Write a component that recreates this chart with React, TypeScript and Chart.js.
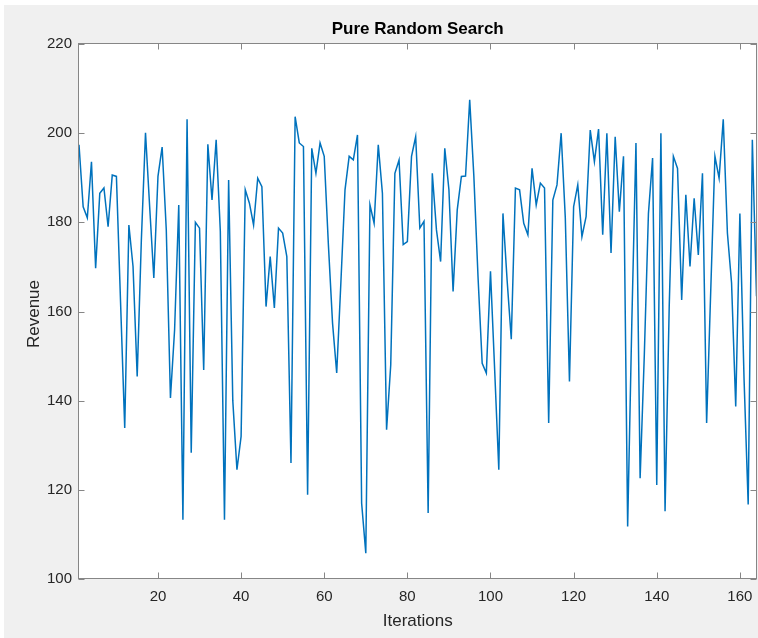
import React, { useEffect, useRef } from "react";
import { Chart, registerables } from "chart.js";

Chart.register(...registerables);

const chartTitle = "Pure Random Search";
const xAxisLabel = "Iterations";
const yAxisLabel = "Revenue";

const xTickValues = [20, 40, 60, 80, 100, 120, 140, 160];
const yTickValues = [100, 120, 140, 160, 180, 200, 220];

// Revenue per iteration (iterations 1..164)
const revenue = [
  197.4, 183.5, 181, 193.6, 169.7, 186.5, 187.7, 179, 190.6, 190.3,
  162, 133.9, 179.4, 170.1, 145.4, 176, 200.1, 183.5, 167.5, 190.3,
  196.9, 178.3, 140.6, 155.9, 183.9, 113.3, 203.1, 128.3, 180, 178.7,
  146.9, 197.5, 185, 198.5, 178, 113.3, 189.5, 140, 124.5, 132,
  187.3, 184.3, 179.4, 189.9, 188, 161.1, 172.3, 160.8, 178.7, 177.6,
  172.3, 126, 203.7, 197.8, 197, 118.9, 196.6, 191, 197.8, 194.8,
  175, 157.4, 146.2, 166.4, 187.3, 194.8, 194, 199.6, 117, 105.8,
  183.9, 179.8, 197.4, 186.5, 133.5, 148, 191, 194, 175, 175.7,
  194.8, 199.2, 178.7, 180.2, 114.8, 191, 178.3, 171.2, 196.6, 187.3,
  164.5, 182.8, 190.3, 190.4, 207.5, 190.3, 167.8, 148.4, 146.2, 169,
  147, 124.5, 182, 167, 153.8, 187.7, 187.3, 179.8, 177.2, 192.1,
  183.9, 188.8, 187.7, 135, 185, 188.4, 200, 181, 144.3, 183.5,
  188.4, 176.8, 181.3, 200.7, 193.6, 200.9, 177.2, 200, 173.1, 199.2,
  182.4, 194.8, 111.8, 157.4, 197.8, 122.6, 150, 182, 194.4, 121.1,
  200, 115.2, 161.1, 194.8, 192.1, 162.6, 186.2, 170.1, 185.4, 172.7,
  191, 135, 165, 194.8, 189.9, 203.1, 177.6, 166.4, 138.7, 182,
  145, 116.7, 198.5, 163.4,
];

const FONT = "'Liberation Sans', Arial, Helvetica, sans-serif";
const AXIS_COLOR = "#868686";
const TEXT_COLOR = "#262626";

const decorPlugin = {
  id: "decor",
  beforeDraw(chart: any) {
    const { ctx, chartArea: a } = chart;
    ctx.save();
    ctx.fillStyle = "#ffffff";
    ctx.fillRect(a.left, a.top, a.right - a.left, a.bottom - a.top);
    ctx.restore();
  },
  afterDraw(chart: any) {
    const { ctx, chartArea: a, scales } = chart;
    ctx.save();
    ctx.strokeStyle = AXIS_COLOR;
    ctx.lineWidth = 1;
    const L = Math.round(a.left) - 0.5;
    const R = Math.round(a.right) - 0.5;
    const T = Math.round(a.top) - 0.5;
    const B = Math.round(a.bottom) - 0.5;
    ctx.strokeRect(L, T, R - L, B - T);
    const tl = 6;
    ctx.beginPath();
    for (const v of xTickValues) {
      const px = Math.round(scales.x.getPixelForValue(v)) + 0.5;
      ctx.moveTo(px, B);
      ctx.lineTo(px, B - tl);
      ctx.moveTo(px, T);
      ctx.lineTo(px, T + tl);
    }
    for (const v of yTickValues) {
      const py = Math.round(scales.y.getPixelForValue(v)) + 0.5;
      ctx.moveTo(L, py);
      ctx.lineTo(L + tl, py);
      ctx.moveTo(R, py);
      ctx.lineTo(R - tl, py);
    }
    ctx.stroke();

    ctx.fillStyle = "#000000";
    ctx.textAlign = "center";
    ctx.textBaseline = "alphabetic";
    ctx.font = `bold 17px ${FONT}`;
    ctx.fillText(chartTitle, (a.left + a.right) / 2, 34);

    ctx.fillStyle = TEXT_COLOR;
    ctx.font = `17px ${FONT}`;
    ctx.fillText(xAxisLabel, (a.left + a.right) / 2, 626);

    ctx.translate(39, 314);
    ctx.rotate(-Math.PI / 2);
    ctx.fillText(yAxisLabel, 0, 0);
    ctx.restore();
  },
};

export default function App() {
  const canvasRef = useRef<HTMLCanvasElement | null>(null);

  useEffect(() => {
    const canvas = canvasRef.current;
    if (!canvas) return;
    const points = revenue.map((v, i) => ({ x: i + 1, y: v }));
    const chart = new Chart(canvas, {
      type: "line",
      data: {
        datasets: [
          {
            data: points,
            borderColor: "#0072BD",
            borderWidth: 1.5,
            pointRadius: 0,
            tension: 0,
            fill: false,
          },
        ],
      },
      options: {
        responsive: false,
        animation: false,
        events: [],
        layout: { padding: { left: 0, right: 1.5, top: 44, bottom: 0 } },
        plugins: {
          legend: { display: false },
          title: { display: false },
          tooltip: { enabled: false },
        },
        scales: {
          x: {
            type: "linear",
            min: 1,
            max: 164,
            grid: { display: false, drawTicks: false },
            border: { display: false },
            afterBuildTicks: (scale: any) => {
              scale.ticks = xTickValues.map((v) => ({ value: v }));
            },
            afterFit: (scale: any) => {
              scale.height = 59;
              scale.paddingLeft = 0;
              scale.paddingRight = 0;
            },
            ticks: {
              padding: 9,
              maxRotation: 0,
              autoSkip: false,
              color: TEXT_COLOR,
              font: { family: FONT, size: 15 },
            },
          },
          y: {
            type: "linear",
            min: 100,
            max: 220,
            grid: { display: false, drawTicks: false },
            border: { display: false },
            afterBuildTicks: (scale: any) => {
              scale.ticks = yTickValues.map((v) => ({ value: v }));
            },
            afterFit: (scale: any) => {
              scale.width = 79;
              scale.paddingTop = 0;
              scale.paddingBottom = 0;
            },
            ticks: {
              padding: 7,
              autoSkip: false,
              color: TEXT_COLOR,
              font: { family: FONT, size: 15 },
            },
          },
        },
      },
      plugins: [decorPlugin],
    });
    return () => chart.destroy();
  }, []);

  return (
    <div
      style={{
        position: "fixed",
        left: 0,
        top: 0,
        width: 758,
        height: 638,
        background: "#ffffff",
        overflow: "hidden",
      }}
    >
      <div
        style={{
          position: "absolute",
          left: 4,
          top: 5,
          width: 754,
          height: 633,
          background: "#f0f0f0",
        }}
      />
      <canvas
        ref={canvasRef}
        width={758}
        height={638}
        style={{ position: "absolute", left: 0, top: 0, width: 758, height: 638 }}
      />
    </div>
  );
}
